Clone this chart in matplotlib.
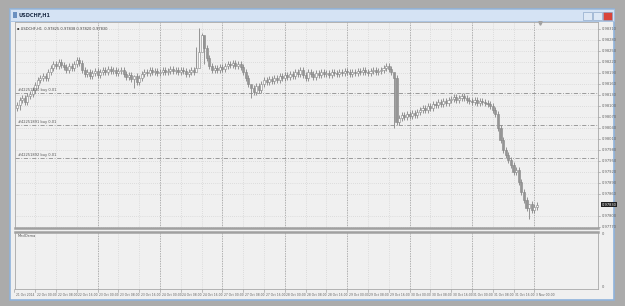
import matplotlib
matplotlib.use("Agg")
import matplotlib.pyplot as plt
import matplotlib.patches as patches
import matplotlib.transforms as mtransforms

# hourly closes of USDCHF (open of each bar = previous close)
first_open = 0.98095
closes = [
    0.98103, 0.98116, 0.98122, 0.98111, 0.98127, 0.98133,
    0.98144, 0.98157, 0.98171, 0.98176, 0.98182, 0.98176,
    0.98193, 0.98204, 0.98215, 0.98209, 0.98220, 0.98212,
    0.98206, 0.98198, 0.98209, 0.98204, 0.98215,
    0.98225, 0.98217,
    0.98198, 0.98187, 0.98193, 0.98182, 0.98190, 0.98195, 0.98185, 0.98193,
    0.98198, 0.98193, 0.98201, 0.98195, 0.98198, 0.98190, 0.98195, 0.98198,
    0.98187, 0.98179, 0.98185, 0.98174, 0.98182, 0.98165, 0.98176,
    0.98187, 0.98193, 0.98190, 0.98198, 0.98193, 0.98195, 0.98190, 0.98193,
    0.98198, 0.98193, 0.98195, 0.98201, 0.98195, 0.98198, 0.98193, 0.98198,
    0.98195, 0.98187, 0.98193, 0.98198, 0.98193, 0.98204,
    0.98247, 0.98294, 0.98258,
    0.98231, 0.98209, 0.98198,
    0.98204, 0.98198, 0.98206, 0.98201, 0.98209, 0.98215, 0.98212,
    0.98217, 0.98209, 0.98215, 0.98206,
    0.98193, 0.98176, 0.98160,
    0.98149, 0.98138, 0.98155, 0.98144, 0.98160, 0.98171,
    0.98165, 0.98174, 0.98168, 0.98176, 0.98171,
    0.98182, 0.98176, 0.98185, 0.98179, 0.98187, 0.98182, 0.98193, 0.98187,
    0.98198, 0.98185, 0.98176, 0.98193, 0.98187, 0.98179, 0.98190, 0.98185,
    0.98193, 0.98187, 0.98190, 0.98185, 0.98193, 0.98190, 0.98187,
    0.98193, 0.98190, 0.98195, 0.98193, 0.98187, 0.98193, 0.98190, 0.98195,
    0.98193, 0.98198, 0.98193, 0.98190, 0.98195, 0.98198, 0.98193, 0.98195,
    0.98198, 0.98204, 0.98209, 0.98201, 0.98193, 0.98176,
    0.98056,
    0.98067, 0.98076, 0.98070, 0.98078, 0.98073, 0.98081, 0.98076, 0.98084,
    0.98089, 0.98095, 0.98089, 0.98100, 0.98095, 0.98106, 0.98103, 0.98111,
    0.98106, 0.98114, 0.98108, 0.98116,
    0.98119, 0.98125, 0.98116, 0.98122, 0.98127, 0.98122, 0.98116,
    0.98114, 0.98111, 0.98116, 0.98108, 0.98114, 0.98111, 0.98108, 0.98106,
    0.98100, 0.98089, 0.98078,
    0.98040, 0.98007, 0.97980, 0.97966,
    0.97953, 0.97939, 0.97920, 0.97925,
    0.97893, 0.97865, 0.97844,
    0.97822, 0.97833, 0.97816, 0.97825, 0.97830,
]
# bars whose wicks reach further than the usual few points
wick_extremes = {
    1: (0.98125, 0.98090),
    45: (0.98185, 0.98150),
    69: (0.98260, 0.98195),
    70: (0.98312, 0.98240),
    71: (0.98300, 0.98250),
    72: (0.98262, 0.98215),
    90: (0.98150, 0.98122),
    145: (0.98180, 0.98040),
    197: (0.97832, 0.97792),
}
default_wick = 0.00008

price_ticks = [0.98310, 0.98280, 0.98250, 0.98220, 0.98190, 0.98160, 0.98130,
               0.98100, 0.98070, 0.98040, 0.98010, 0.97980, 0.97950, 0.97920,
               0.97890, 0.97860, 0.97800, 0.97770]
current_price = 0.97830
order_levels = [0.98135, 0.98048, 0.97958]
order_labels = ["#42251890 buy 0.01", "#42251891 buy 0.01", "#42251892 buy 0.01"]

time_ticks = list(range(-1, 200, 8))
time_labels = ["21 Oct 2014", "22 Oct 00:00", "22 Oct 08:00", "22 Oct 16:00",
               "23 Oct 00:00", "23 Oct 08:00", "23 Oct 16:00", "24 Oct 00:00",
               "24 Oct 08:00", "24 Oct 16:00", "27 Oct 00:00", "27 Oct 08:00",
               "27 Oct 16:00", "28 Oct 00:00", "28 Oct 08:00", "28 Oct 16:00",
               "29 Oct 00:00", "29 Oct 08:00", "29 Oct 16:00", "30 Oct 00:00",
               "30 Oct 08:00", "30 Oct 16:00", "31 Oct 00:00", "31 Oct 08:00",
               "31 Oct 16:00", "3 Nov 00:00"]
day_lines = [31, 55, 79, 103, 127, 151, 175, 199]

W, H = 625, 306


def px_rect(x0, y0, x1, y1):
    return [x0 / W, 1 - y1 / H, (x1 - x0) / W, (y1 - y0) / H]


def frame_patch(x0, y0, x1, y1, **kw):
    fig.patches.append(patches.Rectangle((x0 / W, 1 - y1 / H), (x1 - x0) / W, (y1 - y0) / H,
                                         transform=fig.transFigure, zorder=-5, **kw))


fig = plt.figure(figsize=(6.25, 3.06), dpi=100, facecolor="#ababab")

# window frame + title bar
frame_patch(10, 9, 614, 300, facecolor="#f0f0f0", edgecolor="#8fb3dc", lw=1.2)
frame_patch(10, 9, 614, 21, facecolor="#d5e3f4", edgecolor="#a3bfdf", lw=0.6)
frame_patch(12.5, 12, 16.5, 18, facecolor="#6a90c0", edgecolor="none")
fig.text(18.5 / W, 1 - 15 / H, "USDCHF,H1", fontsize=3.6, fontweight="bold",
         color="#1e2e48", va="center")
for bx, col in [(583, "#dde8f5"), (593, "#dde8f5"), (603, "#d9443a")]:
    frame_patch(bx, 12.5, bx + 9, 19.5, facecolor=col, edgecolor="#7f9cc0", lw=0.4)

ax = fig.add_axes(px_rect(15, 22, 598, 228))
ax2 = fig.add_axes(px_rect(15, 232, 598, 289))
for a in (ax, ax2):
    a.set_facecolor("#f0f0f0")
    a.set_xlim(-0.77, 223.5)
    a.set_xticks([])
    a.set_yticks([])
    for s in a.spines.values():
        s.set_color("#a8a8a8")
        s.set_linewidth(0.6)
    for t in time_ticks:
        a.axvline(t, color="#cacaca", lw=0.5, ls=(0, (1, 2)), zorder=0)
    for t in day_lines:
        a.axvline(t, color="#a6a6a6", lw=0.6, ls=(0, (1.5, 1.5)), zorder=0)
ax.spines["bottom"].set_color("#a0a0a0")
ax.spines["bottom"].set_linewidth(1.8)
ax2.spines["top"].set_color("#a0a0a0")
ax2.spines["top"].set_linewidth(1.8)

ymin, ymax = 0.97767, 0.98329
ax.set_ylim(ymin, ymax)
ax2.set_ylim(0, 1)
for p in price_ticks:
    ax.axhline(p, color="#cacaca", lw=0.5, ls=(0, (1, 2)), zorder=0)

# candles
opens = [first_open] + closes[:-1]
for i, (o, c) in enumerate(zip(opens, closes)):
    hi, lo = wick_extremes.get(i, (max(o, c) + default_wick, min(o, c) - default_wick))
    ax.vlines(i, lo, hi, color="#858585", lw=0.6, zorder=2)
    body = max(abs(c - o), 0.000015)
    fill = "#fafafa" if c >= o else "#959595"
    ax.add_patch(patches.Rectangle((i - 0.4, min(o, c)), 0.8, body,
                                   facecolor=fill, edgecolor="#858585", lw=0.4, zorder=3))

# order levels
for lvl, lab in zip(order_levels, order_labels):
    ax.axhline(lvl, color="#8c8c8c", lw=0.6, ls=(0, (5, 2, 1, 2)), zorder=1)
    ax.text(0.5, lvl + 0.00002, lab, fontsize=2.6, color="#555555", va="bottom", ha="left")

ax.text(0.004, 0.975, "\u25aa USDCHF,H1  0.97825 0.97838 0.97820 0.97830",
        transform=ax.transAxes, fontsize=2.6, color="#444444", va="top")
ax.plot([201], [ymax - 0.00002], marker="v", color="#a0a0a0", ms=2.5, clip_on=False)

# price scale on the right
tr = mtransforms.blended_transform_factory(ax.transAxes, ax.transData)
for p in price_ticks:
    ax.text(1.006, p, f"{p:.5f}", transform=tr, fontsize=2.6, color="#606060",
            va="center", ha="left", clip_on=False)
    ax.plot([1.0, 1.004], [p, p], transform=tr, color="#909090", lw=0.4, clip_on=False)
ax.text(1.006, current_price, f"{current_price:.5f}", transform=tr, fontsize=2.6,
        color="white", va="center", ha="left", clip_on=False,
        bbox=dict(boxstyle="square,pad=0.15", facecolor="#202020", edgecolor="none"))

ax2.text(0.004, 0.96, "MedOsma", transform=ax2.transAxes, fontsize=2.6,
         color="#555555", va="top")
ax2.text(1.006, 0.97, "0", transform=ax2.transAxes, fontsize=2.6, color="#606060",
         va="center", clip_on=False)
ax2.text(1.006, 0.03, "0", transform=ax2.transAxes, fontsize=2.6, color="#606060",
         va="center", clip_on=False)

# time scale below the indicator window
trx = mtransforms.blended_transform_factory(ax2.transData, ax2.transAxes)
for t, lab in zip(time_ticks, time_labels):
    ax2.plot([t, t], [0, -0.06], transform=trx, color="#909090", lw=0.4, clip_on=False)
    ax2.text(t + 0.6, -0.07, lab, transform=trx, fontsize=2.2, color="#606060",
             va="top", ha="left", clip_on=False)

fig.savefig("out.png", dpi=100, facecolor=fig.get_facecolor())
